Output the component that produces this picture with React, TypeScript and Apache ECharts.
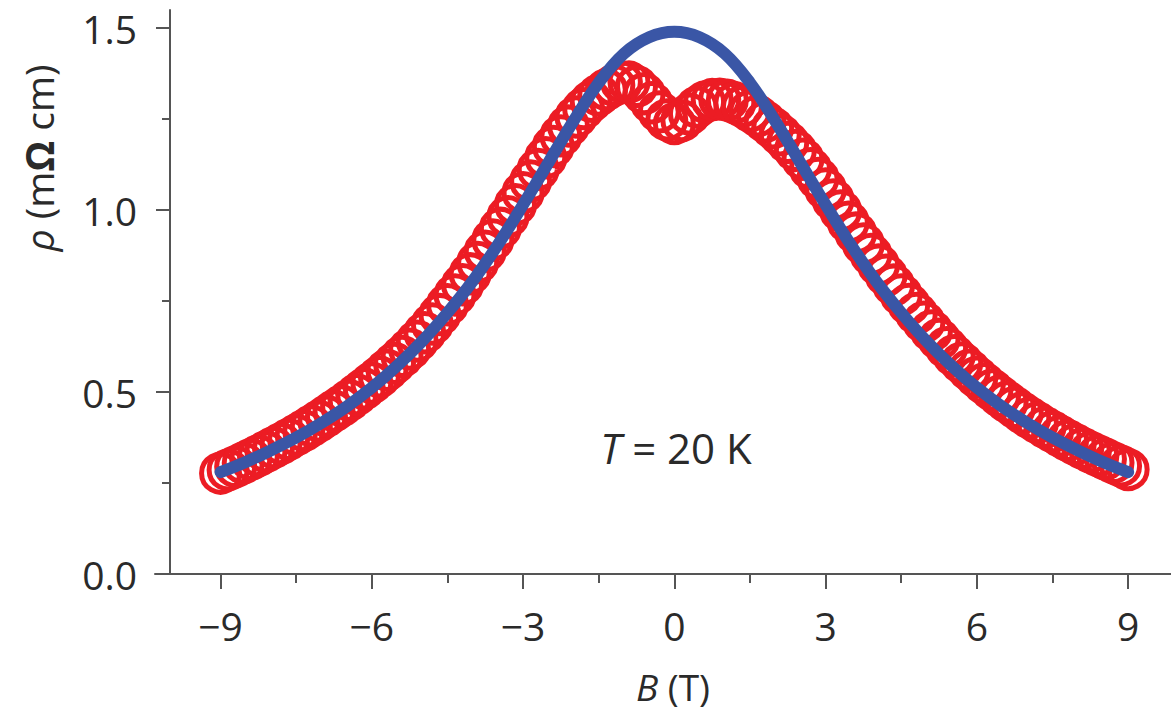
import React, { useEffect, useRef } from "react";
import * as echarts from "echarts";

// Measured resistivity (red open circles), B from -9 T to 9 T in 0.15 T steps
const RED_B_START = -9;
const RED_B_STEP = 0.15;
const redRho = [
  0.277, 0.286, 0.295, 0.305, 0.315, 0.325, 0.336, 0.347, 0.358, 0.37,
  0.382, 0.394, 0.407, 0.42, 0.434, 0.448, 0.462, 0.477, 0.493, 0.509,
  0.525, 0.542, 0.56, 0.579, 0.598, 0.618, 0.64, 0.663, 0.687, 0.713,
  0.74, 0.767, 0.795, 0.825, 0.856, 0.887, 0.918, 0.95, 0.982, 1.015,
  1.048, 1.08, 1.112, 1.144, 1.175, 1.204, 1.231, 1.256, 1.279, 1.299,
  1.316, 1.331, 1.343, 1.352, 1.352, 1.34, 1.32, 1.295, 1.27, 1.248,
  1.238, 1.246, 1.264, 1.283, 1.297, 1.304, 1.305, 1.302, 1.295, 1.285,
  1.272, 1.259, 1.243, 1.226, 1.207, 1.186, 1.164, 1.14, 1.114, 1.087,
  1.058, 1.028, 0.998, 0.967, 0.937, 0.907, 0.878, 0.849, 0.821, 0.794,
  0.767, 0.741, 0.716, 0.692, 0.668, 0.645, 0.622, 0.6, 0.58, 0.56,
  0.541, 0.523, 0.506, 0.489, 0.473, 0.458, 0.443, 0.429, 0.416, 0.403,
  0.391, 0.379, 0.367, 0.356, 0.345, 0.335, 0.325, 0.316, 0.306, 0.297,
  0.287,
];

// Fit curve (blue line)
const blueB = [
  -9, -8.5, -8, -7.5, -7, -6.5, -6, -5.5, -5, -4.5, -4, -3.5, -3, -2.5, -2, -1.5, -1, -0.5, 0,
  0.5, 1, 1.5, 2, 2.5, 3, 3.5, 4, 4.5, 5, 5.5, 6, 6.5, 7, 7.5, 8, 8.5, 9,
];
const blueRho = [
  0.28, 0.308, 0.34, 0.375, 0.415, 0.46, 0.512, 0.572, 0.64, 0.718, 0.805, 0.905, 1.015, 1.13,
  1.245, 1.35, 1.43, 1.475, 1.49, 1.475, 1.43, 1.35, 1.245, 1.13, 1.015, 0.905, 0.805, 0.718,
  0.64, 0.572, 0.512, 0.46, 0.415, 0.375, 0.34, 0.308, 0.28,
];

const xMajorTicks = [-9, -6, -3, 0, 3, 6, 9];
const xMinorTicks = [-7.5, -4.5, -1.5, 1.5, 4.5, 7.5];
const yMajorTicks = [0, 0.5, 1.0, 1.5];
const yMinorTicks = [0.25, 0.75, 1.25];

const FONT = "'Open Sans', 'Noto Sans', sans-serif";
const AXIS_COLOR = "#555555";
const TEXT_COLOR = "#2a2a2a";
const RED = "#ec1c24";
const BLUE = "#3a56a6";

export default function App() {
  const ref = useRef<HTMLDivElement>(null);

  useEffect(() => {
    if (!ref.current) return;
    const chart = echarts.init(ref.current, undefined, { renderer: "svg" });

    const redData = redRho.map((r, i) => [
      Math.round((RED_B_START + i * RED_B_STEP) * 100) / 100,
      r,
    ]);
    const blueData = blueB.map((b, i) => [b, blueRho[i]]);

    const xCommon = {
      type: "value" as const,
      min: -10.3,
      max: 9.85,
      splitLine: { show: false },
      gridIndex: 0,
      position: "bottom" as const,
    };
    const yCommon = {
      type: "value" as const,
      min: 0,
      max: 1.55,
      splitLine: { show: false },
      gridIndex: 0,
      position: "left" as const,
      offset: -15,
    };

    chart.setOption({
      animation: false,
      backgroundColor: "#ffffff",
      grid: {
        left: 155,
        right: 0,
        top: 10,
        bottom: 139,
        containLabel: false,
        outerBoundsMode: "none",
      },
      xAxis: [
        {
          ...xCommon,
          axisLine: { show: true, onZero: false, lineStyle: { color: AXIS_COLOR, width: 2 } },
          axisTick: {
            show: true,
            inside: false,
            length: 15,
            customValues: xMajorTicks,
            lineStyle: { color: AXIS_COLOR, width: 2 },
          },
          axisLabel: {
            show: true,
            customValues: xMajorTicks,
            margin: 32,
            fontFamily: FONT,
            fontSize: 39,
            color: TEXT_COLOR,
            formatter: (v: number) => (v < 0 ? "\u2212" + Math.abs(v) : String(v)),
          },
        },
        {
          ...xCommon,
          axisLine: { show: false, onZero: false },
          axisTick: {
            show: true,
            inside: false,
            length: 9,
            customValues: xMinorTicks,
            lineStyle: { color: AXIS_COLOR, width: 2 },
          },
          axisLabel: { show: false },
        },
      ],
      yAxis: [
        {
          ...yCommon,
          axisLine: { show: true, onZero: false, lineStyle: { color: AXIS_COLOR, width: 2 } },
          axisTick: {
            show: true,
            inside: false,
            length: 14,
            customValues: yMajorTicks,
            lineStyle: { color: AXIS_COLOR, width: 2 },
          },
          axisLabel: {
            show: true,
            customValues: yMajorTicks,
            margin: 33,
            fontFamily: FONT,
            fontSize: 39,
            color: TEXT_COLOR,
            formatter: (v: number) => v.toFixed(1),
          },
        },
        {
          ...yCommon,
          axisLine: { show: false, onZero: false },
          axisTick: {
            show: true,
            inside: false,
            length: 8,
            customValues: yMinorTicks,
            lineStyle: { color: AXIS_COLOR, width: 2 },
          },
          axisLabel: { show: false },
        },
      ],
      series: [
        {
          type: "scatter",
          xAxisIndex: 0,
          yAxisIndex: 0,
          data: redData,
          symbol: "circle",
          symbolSize: 38,
          itemStyle: {
            color: "rgba(0,0,0,0)",
            borderColor: RED,
            borderWidth: 5,
            opacity: 1,
          },
          emphasis: { disabled: true },
          z: 2,
        },
        {
          type: "line",
          xAxisIndex: 0,
          yAxisIndex: 0,
          data: blueData,
          smooth: 0.4,
          showSymbol: false,
          lineStyle: { color: BLUE, width: 12, cap: "round", opacity: 1 },
          emphasis: { disabled: true },
          z: 3,
        },
      ],
      graphic: [
        {
          type: "text",
          x: 38,
          y: 158,
          rotation: Math.PI / 2,
          style: {
            text: "{i|ρ} (m{b|Ω} cm)",
            fontFamily: FONT,
            fontSize: 39,
            fill: TEXT_COLOR,
            align: "center",
            verticalAlign: "middle",
            rich: {
              i: { fontStyle: "italic", fontFamily: FONT, fontSize: 39, fill: TEXT_COLOR },
              b: { fontWeight: "bold", fontFamily: FONT, fontSize: 39, fill: TEXT_COLOR },
            },
          },
        },
        {
          type: "text",
          x: 676,
          y: 447,
          style: {
            text: "{i|T} = 20 K",
            fontFamily: FONT,
            fontSize: 42,
            fill: TEXT_COLOR,
            align: "center",
            verticalAlign: "middle",
            rich: {
              i: { fontStyle: "italic", fontFamily: FONT, fontSize: 42, fill: TEXT_COLOR },
            },
          },
        },
        {
          type: "text",
          x: 673,
          y: 686,
          style: {
            text: "{i|B} (T)",
            fontFamily: FONT,
            fontSize: 37,
            fill: TEXT_COLOR,
            align: "center",
            verticalAlign: "middle",
            rich: {
              i: { fontStyle: "italic", fontFamily: FONT, fontSize: 37, fill: TEXT_COLOR },
            },
          },
        },
      ],
    });

    return () => chart.dispose();
  }, []);

  return (
    <div
      ref={ref}
      style={{ position: "fixed", left: 0, top: 0, width: 1171, height: 713, background: "#fff" }}
    />
  );
}
